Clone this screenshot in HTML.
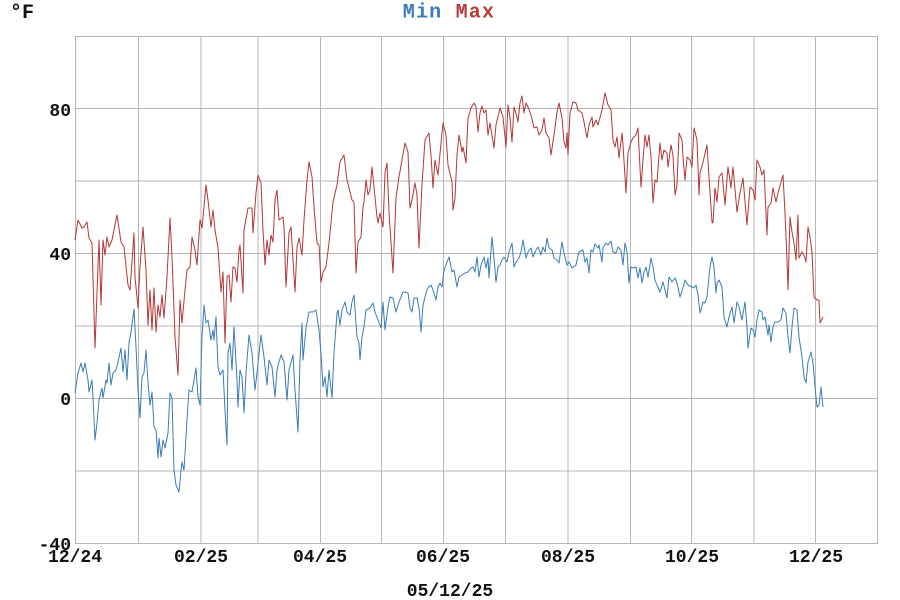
<!DOCTYPE html>
<html><head><meta charset="utf-8"><style>
html,body{margin:0;padding:0;background:#fff;width:900px;height:600px;overflow:hidden}
svg{display:block}
text{font-family:"Liberation Mono","DejaVu Sans Mono",monospace;font-weight:bold;fill:#111}
</style></head><body>
<svg width="900" height="600" viewBox="0 0 900 600" xmlns="http://www.w3.org/2000/svg">
<rect width="900" height="600" fill="#fff"/>
<g stroke="#b6b6b6" stroke-width="1" fill="none">
<line x1="75.5" y1="108.5" x2="877.5" y2="108.5"/>
<line x1="75.5" y1="181" x2="877.5" y2="181"/>
<line x1="75.5" y1="253.5" x2="877.5" y2="253.5"/>
<line x1="75.5" y1="326" x2="877.5" y2="326"/>
<line x1="75.5" y1="398.5" x2="877.5" y2="398.5"/>
<line x1="75.5" y1="471" x2="877.5" y2="471"/>
<line x1="138.5" y1="36.5" x2="138.5" y2="543.5"/>
<line x1="201" y1="36.5" x2="201" y2="543.5"/>
<line x1="258" y1="36.5" x2="258" y2="543.5"/>
<line x1="320.5" y1="36.5" x2="320.5" y2="543.5"/>
<line x1="381.5" y1="36.5" x2="381.5" y2="543.5"/>
<line x1="443.5" y1="36.5" x2="443.5" y2="543.5"/>
<line x1="505.5" y1="36.5" x2="505.5" y2="543.5"/>
<line x1="568" y1="36.5" x2="568" y2="543.5"/>
<line x1="630.5" y1="36.5" x2="630.5" y2="543.5"/>
<line x1="691.5" y1="36.5" x2="691.5" y2="543.5"/>
<line x1="754" y1="36.5" x2="754" y2="543.5"/>
<line x1="815.5" y1="36.5" x2="815.5" y2="543.5"/>
<rect x="75.5" y="36.5" width="802" height="507"/>
</g>
<polyline fill="none" stroke="#b43636" stroke-width="1" stroke-linejoin="round" points="75,240 78,220 82,228 84,227 87,222 89,238 92,243 95,348 97,293 99,240 101,305 103,240 105,255 107,237 109,247 112,240 117,215 121,242 124,247 128,285 130,290 134,233 135,277 138,308 140,267 143,227 146,270 148,325 150,290 152,330 154,288 156,332 158,305 160,317 162,295 164,318 167,277 170,218 172,257 175,337 178,375 180,300 182,323 185,290 187,270 190,267 192,237 195,250 197,265 200,220 202,228 206,185 208,200 211,227 213,210 215,230 218,248 221,292 223,272 225,343 227,277 229,275 231,302 233,267 235,268 237,282 239,250 240,245 243,293 244,230 248,208 252,208 253,233 256,193 258,175 261,183 263,230 265,265 267,240 269,255 271,235 273,242 275,200 277,190 279,220 283,217 284,227 286,287 289,233 291,227 293,260 295,292 297,247 299,238 302,255 304,220 307,180 309,162 312,177 314,207 317,243 319,245 321,282 323,272 326,267 329,243 333,202 337,185 340,162 344,155 347,180 352,200 354,202 356,273 358,242 361,237 363,207 364,202 366,180 368,195 370,190 372,167 374,187 377,217 378,223 380,213 383,227 385,173 387,163 389,212 393,273 396,198 399,177 402,160 405,143 408,152 410,208 412,200 415,183 417,195 419,248 422,185 425,140 429,133 431,155 433,188 435,160 438,175 441,143 443,123 446,135 448,165 452,182 453,210 455,198 457,155 459,135 462,152 463,147 466,163 468,118 471,108 474,103 476,107 478,132 480,113 482,106 484,113 486,110 488,135 490,123 494,148 496,125 500,108 503,117 506,147 508,105 510,118 512,142 514,107 517,117 518,122 520,103 522,96 524,113 526,103 528,107 531,115 534,128 537,127 539,135 542,130 544,118 546,133 549,138 551,155 554,135 557,112 559,103 562,118 564,142 566,148 567,133 568,155 570,113 573,102 576,103 578,110 582,113 584,122 587,138 589,125 592,117 593,127 596,120 598,125 602,110 605,93 608,105 611,110 613,140 615,147 617,137 619,158 622,133 623,145 626,193 628,153 631,142 633,138 636,135 638,128 641,187 643,160 645,135 647,147 649,135 651,157 653,203 655,180 657,182 660,143 662,160 664,150 667,153 668,167 671,145 673,155 675,195 677,185 679,133 682,140 683,157 685,180 687,157 690,160 692,167 694,128 697,140 699,195 700,173 703,162 707,145 709,177 712,222 713,223 715,188 717,202 719,177 722,173 725,205 728,167 731,188 733,167 737,212 740,193 743,178 747,225 750,187 753,190 755,200 757,160 760,167 762,175 764,170 767,235 768,207 771,203 773,188 776,202 778,193 781,182 783,175 785,213 787,260 788,290 790,217 792,232 794,243 796,260 798,215 799,258 802,252 804,255 806,262 808,227 810,237 812,252 814,297 817,300 819,300 820,323 823,317"/>
<polyline fill="none" stroke="#3a7bb8" stroke-width="1" stroke-linejoin="round" points="75,393 78,373 81,363 83,372 85,363 88,380 89,392 92,380 93,397 95,440 97,423 99,400 102,388 103,398 106,380 107,383 109,363 111,385 113,373 116,370 118,362 121,348 123,372 125,350 127,380 129,343 131,332 134,309 136,347 138,390 140,418 142,377 144,373 146,350 148,383 150,405 152,392 154,427 156,430 158,458 159,438 161,457 163,440 165,448 168,433 170,393 172,398 174,470 176,485 179,492 181,470 182,462 184,470 187,420 189,390 192,392 194,380 196,368 198,397 200,405 202,337 204,305 206,323 208,320 211,340 213,330 214,340 216,317 218,367 220,375 223,370 225,410 227,445 228,353 230,343 232,370 234,327 237,380 238,407 240,370 242,377 244,413 246,373 249,335 252,353 255,390 257,373 261,335 264,357 267,385 269,360 272,367 275,397 277,370 279,362 281,355 284,362 287,400 289,370 293,355 295,390 298,432 300,360 302,323 303,360 306,328 309,312 313,312 316,310 319,330 321,353 323,387 325,377 327,397 329,370 332,398 334,353 337,313 338,310 340,325 342,310 345,302 347,312 350,315 352,302 354,295 357,337 359,343 360,360 362,337 364,327 366,310 370,308 373,303 375,312 378,320 381,328 383,302 385,330 388,307 390,297 393,298 396,312 399,302 403,292 405,292 408,293 410,308 412,312 414,298 417,298 419,308 421,332 423,305 426,293 428,288 431,285 433,290 436,300 438,287 440,283 442,287 444,270 446,265 449,257 452,272 454,270 457,287 459,277 462,275 465,273 468,272 471,268 473,267 475,272 477,257 479,277 481,265 484,257 486,268 488,258 489,278 492,237 494,258 496,282 498,267 500,265 502,260 504,257 507,262 509,252 512,243 514,267 516,262 519,258 521,252 523,240 526,258 528,252 531,248 533,257 536,250 538,247 541,255 543,247 545,252 547,238 549,248 552,250 554,258 557,260 559,263 562,242 564,253 567,265 569,262 572,268 576,265 579,252 583,250 585,262 587,258 589,273 591,250 593,252 595,244 598,248 599,245 602,262 603,248 606,243 608,245 611,241 613,252 616,253 618,247 621,250 623,265 625,243 627,252 629,283 631,267 633,268 636,267 638,278 640,268 642,283 644,272 646,267 648,277 651,258 653,267 655,280 657,285 660,292 663,282 665,290 667,298 669,277 672,282 675,278 677,283 680,297 683,288 685,280 688,285 692,287 694,288 696,285 698,295 700,313 703,302 705,303 707,297 710,267 712,257 714,267 716,293 717,283 719,280 722,287 724,317 727,327 729,317 732,307 734,323 737,302 739,307 742,320 745,302 747,327 748,348 751,328 753,330 755,337 757,320 759,310 762,312 763,320 765,317 768,335 769,325 771,342 773,327 775,322 778,322 781,320 783,308 786,313 788,337 790,353 792,327 794,308 797,310 799,337 802,357 804,377 806,383 808,362 811,352 813,363 815,387 817,407 819,405 821,387 823,407"/>
<g font-size="18" text-anchor="end">
<text x="71" y="116">80</text>
<text x="71" y="260">40</text>
<text x="71" y="405">0</text>
<text x="71" y="550">-40</text>
</g>
<g font-size="18" text-anchor="middle">
<text x="75" y="562">12/24</text>
<text x="201" y="562">02/25</text>
<text x="320" y="562">04/25</text>
<text x="443" y="562">06/25</text>
<text x="568" y="562">08/25</text>
<text x="692" y="562">10/25</text>
<text x="816" y="562">12/25</text>
<text x="450" y="596">05/12/25</text>
</g>
<text x="10" y="18" font-size="20">°F</text>
<text x="449" y="17.5" font-size="20" text-anchor="middle" letter-spacing="1.2"><tspan fill="#3a7bb8">Min</tspan> <tspan fill="#b83c3c">Max</tspan></text>
</svg>
</body></html>
